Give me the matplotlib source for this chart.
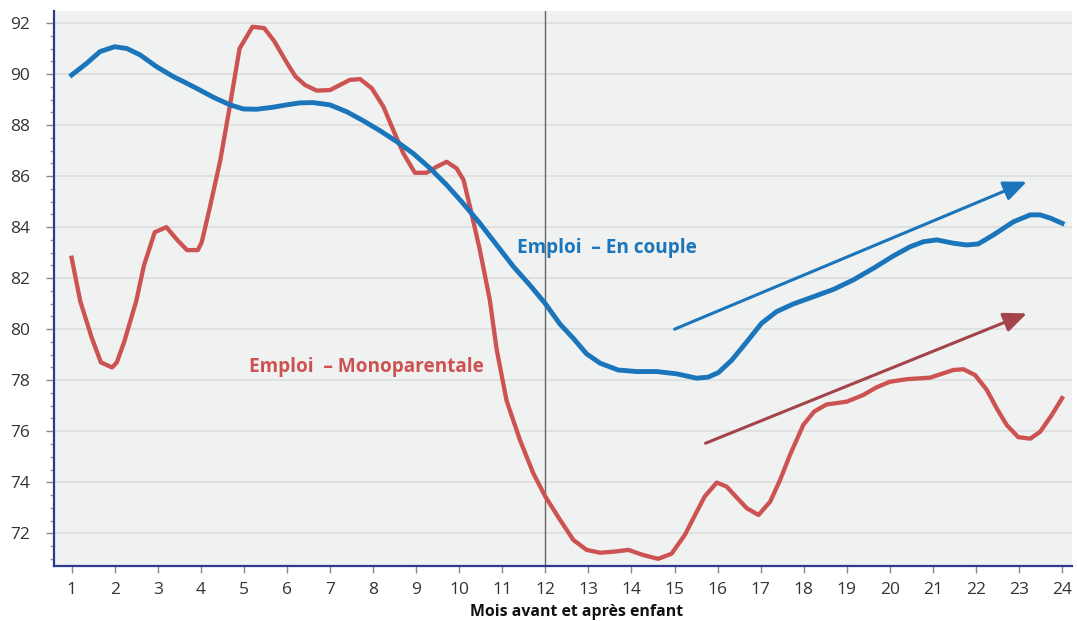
import numpy as np
from matplotlib import pyplot as plt
from matplotlib.ticker import MultipleLocator

# months and employment rate (%)
mono_x = [1.0, 1.2, 1.47, 1.68, 1.94, 2.05, 2.22, 2.5, 2.68, 2.93, 3.2, 3.45, 3.68,
          3.93, 4.02, 4.2, 4.45, 4.68, 4.9, 5.2, 5.47, 5.7, 6.03, 6.2, 6.42, 6.69,
          7.0, 7.46, 7.7, 7.97, 8.24, 8.47, 8.7, 8.97, 9.24, 9.48, 9.71, 9.94, 10.1,
          10.25, 10.48, 10.71, 10.87, 11.1, 11.41, 11.72, 12.0, 12.34, 12.65, 12.96,
          13.27, 13.58, 13.93, 14.27, 14.62, 14.93, 15.24, 15.47, 15.7, 15.98, 16.21,
          16.44, 16.68, 16.95, 17.22, 17.45, 17.68, 17.99, 18.24, 18.53, 19.0, 19.38,
          19.69, 20.0, 20.39, 20.93, 21.24, 21.47, 21.71, 21.98, 22.25, 22.48, 22.71,
          22.98, 23.26, 23.49, 23.76, 24.0]
mono_y = [82.8, 81.1, 79.65, 78.7, 78.5, 78.7, 79.5, 81.1, 82.5, 83.8, 84.0, 83.5, 83.1,
          83.1, 83.4, 84.7, 86.6, 88.8, 91.0, 91.85, 91.8, 91.3, 90.35, 89.9, 89.57, 89.35,
          89.37, 89.77, 89.8, 89.44, 88.72, 87.8, 86.9, 86.13, 86.13, 86.37, 86.56, 86.3, 85.85,
          84.8, 83.1, 81.15, 79.2, 77.2, 75.66, 74.35, 73.44, 72.53, 71.74, 71.35,
          71.24, 71.28, 71.35, 71.15, 71.0, 71.2, 71.94, 72.7, 73.44, 73.99, 73.83,
          73.41, 72.98, 72.72, 73.24, 74.09, 75.07, 76.25, 76.77, 77.05, 77.16, 77.42,
          77.72, 77.94, 78.04, 78.1, 78.27, 78.4, 78.43, 78.2, 77.62, 76.9, 76.25,
          75.77, 75.71, 75.98, 76.64, 77.3]

couple_x = [1.0, 1.35, 1.66, 2.0, 2.28, 2.59, 2.97, 3.36, 3.67, 3.98, 4.29, 4.68, 4.99,
            5.3, 5.68, 5.99, 6.3, 6.61, 7.0, 7.39, 7.77, 8.16, 8.55, 8.93, 9.32, 9.71,
            10.09, 10.48, 10.87, 11.26, 11.64, 12.0, 12.34, 12.65, 12.96, 13.27, 13.69,
            14.12, 14.59, 15.05, 15.51, 15.78, 16.02, 16.33, 16.68, 17.02, 17.37, 17.76,
            18.22, 18.69, 19.15, 19.62, 20.08, 20.47, 20.78, 21.09, 21.47, 21.78, 22.05,
            22.4, 22.87, 23.26, 23.49, 23.73, 24.0]
couple_y = [89.96, 90.42, 90.88, 91.07, 91.0, 90.75, 90.29, 89.9, 89.64, 89.37, 89.09, 88.79, 88.63,
            88.62, 88.7, 88.79, 88.87, 88.88, 88.79, 88.52, 88.17, 87.78, 87.35, 86.89, 86.31, 85.65,
            84.93, 84.15, 83.3, 82.45, 81.73, 81.0, 80.2, 79.64, 79.03, 78.67, 78.4,
            78.34, 78.34, 78.25, 78.08, 78.12, 78.3, 78.79, 79.51, 80.23, 80.69, 80.99,
            81.27, 81.56, 81.93, 82.39, 82.87, 83.23, 83.43, 83.5, 83.37, 83.3, 83.34,
            83.69, 84.21, 84.48, 84.48, 84.35, 84.15]

# trend arrows (start, end)
couple_arrow = [(15.0, 80.0), (23.18, 85.78)]
mono_arrow = [(15.72, 75.53), (23.18, 80.62)]

months = list(range(1, 25))

blue = '#1b75bb'
red = '#cd5353'
dark_red = '#a3444a'

plt.rcParams['font.family'] = ['Open Sans', 'DejaVu Sans']

fig = plt.figure(figsize=(10.77, 6.21), dpi=100)
ax = fig.add_axes([0.0501, 0.089, 0.9453, 0.8933])
ax.set_facecolor('#f0f1f1')

ax.set_xlim(0.59, 24.23)
ax.set_ylim(70.73, 92.47)

ax.yaxis.set_major_locator(MultipleLocator(2))
ax.yaxis.set_minor_locator(MultipleLocator(0.5))
ax.set_xticks(months)
ax.grid(axis='y', which='major', color='#dcdddd', linewidth=1.2)
ax.set_axisbelow(True)

for s in ['top', 'right']:
    ax.spines[s].set_visible(False)
for s in ['left', 'bottom']:
    ax.spines[s].set_color('#2b3990')
    ax.spines[s].set_linewidth(1.6)

ax.tick_params(axis='y', which='major', length=6, width=1, color='#888888',
               labelsize=12.5, labelcolor='#333333', pad=11)
ax.tick_params(axis='y', which='minor', length=3, width=1, color='#999999')
ax.tick_params(axis='x', length=5, width=1, color='#888888',
               labelsize=12.5, labelcolor='#333333', pad=7)

ax.axvline(12, color='#666666', linewidth=1, zorder=2)

ax.plot(mono_x, mono_y, color=red, linewidth=3.1, solid_joinstyle='round', zorder=3)
ax.plot(couple_x, couple_y, color=blue, linewidth=3.5, solid_joinstyle='round', zorder=4)

for (p0, p1), c in [(couple_arrow, blue), (mono_arrow, dark_red)]:
    ax.annotate('', xy=p1, xytext=p0,
                arrowprops=dict(arrowstyle='-|>,head_length=1.4,head_width=0.6',
                                color=c, lw=2.2, shrinkA=0, shrinkB=0))

ax.text(11.35, 83.18, 'Emploi  \u2013 En couple', color=blue, fontsize=13.7,
        fontweight='bold', va='center', ha='left')
ax.text(5.12, 78.52, 'Emploi  \u2013 Monoparentale', color=red, fontsize=13.7,
        fontweight='bold', va='center', ha='left')

ax.set_xlabel('Mois avant et après enfant', fontsize=11.4, fontweight='bold',
              color='#111111')
ax.xaxis.set_label_coords((577 - 54) / 1018, -0.069)

fig.savefig('out.png', dpi=100)
